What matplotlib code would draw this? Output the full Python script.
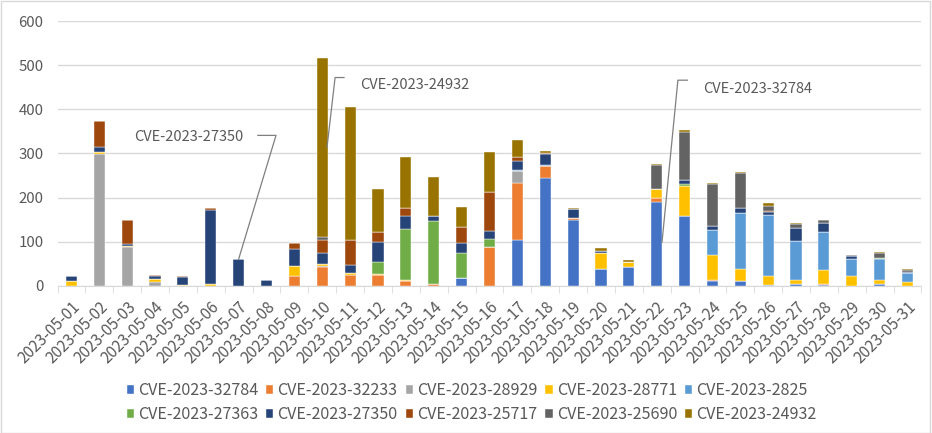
import matplotlib
matplotlib.use('Agg')
import matplotlib.pyplot as plt
import numpy as np
from matplotlib.patches import Rectangle

plt.rcParams['font.family'] = ['Noto Sans CJK KR', 'DejaVu Sans']

dates = [f'2023-05-{d:02d}' for d in range(1, 32)]

series_names = ['CVE-2023-32784', 'CVE-2023-32233', 'CVE-2023-28929', 'CVE-2023-28771',
                'CVE-2023-2825', 'CVE-2023-27363', 'CVE-2023-27350', 'CVE-2023-25717',
                'CVE-2023-25690', 'CVE-2023-24932']
colors = ['#4472C4', '#ED7D31', '#A5A5A5', '#FFC000', '#5B9BD5',
          '#70AD47', '#264478', '#9E480E', '#636363', '#997300']

cve_32784 = [0, 0, 0, 0, 0, 0, 0, 0, 0, 0, 0, 0, 0, 0, 17, 0, 104, 244, 149, 38, 42, 191, 159, 12, 11, 2, 4, 3, 0, 4, 0]
cve_32233 = [0, 0, 0, 0, 0, 1, 0, 0, 23, 44, 26, 24, 12, 5, 0, 88, 130, 27, 6, 0, 0, 8, 0, 1, 1, 0, 0, 2, 0, 0, 0]
cve_28929 = [0, 298, 88, 10, 0, 0, 0, 0, 0, 2, 0, 0, 0, 0, 0, 0, 27, 0, 0, 0, 0, 0, 0, 0, 0, 0, 0, 0, 0, 0, 0]
cve_28771 = [11, 6, 3, 5, 2, 3, 0, 0, 22, 3, 3, 3, 2, 0, 0, 0, 0, 0, 0, 37, 12, 20, 67, 57, 26, 21, 9, 32, 23, 10, 8]
cve_2825 = [0, 0, 0, 0, 0, 0, 0, 0, 0, 0, 0, 0, 0, 0, 0, 0, 2, 3, 0, 0, 0, 0, 0, 57, 128, 137, 88, 86, 37, 47, 21]
cve_27363 = [0, 0, 0, 0, 0, 0, 0, 0, 0, 0, 0, 27, 114, 143, 57, 19, 0, 0, 0, 0, 0, 0, 6, 0, 0, 0, 0, 0, 0, 2, 0]
cve_27350 = [12, 10, 5, 8, 18, 168, 61, 14, 38, 25, 18, 46, 31, 10, 24, 17, 20, 25, 20, 4, 0, 0, 8, 9, 10, 7, 30, 20, 7, 0, 3]
cve_25717 = [0, 60, 54, 1, 2, 4, 0, 0, 15, 30, 57, 22, 17, 1, 36, 89, 8, 2, 0, 1, 0, 0, 0, 0, 0, 2, 0, 0, 0, 0, 0]
cve_25690 = [0, 0, 0, 0, 0, 0, 0, 0, 0, 6, 0, 0, 0, 0, 0, 0, 0, 0, 0, 0, 0, 54, 109, 94, 80, 13, 9, 6, 3, 11, 4]
cve_24932 = [0, 0, 0, 0, 0, 0, 0, 0, 0, 406, 301, 98, 116, 88, 44, 91, 39, 5, 2, 5, 4, 4, 5, 3, 2, 5, 2, 0, 0, 2, 2]

series = [cve_32784, cve_32233, cve_28929, cve_28771, cve_2825,
          cve_27363, cve_27350, cve_25717, cve_25690, cve_24932]

TEXT = '#595959'
GRID = '#D9D9D9'

fig = plt.figure(figsize=(9.32, 4.33), dpi=100)
ax = fig.add_axes([0.0617, 0.3395, 0.927, 0.612])

x = np.arange(len(dates))
bottom = np.zeros(len(dates))
for name, vals, c in zip(series_names, series, colors):
    v = np.array(vals, dtype=float)
    ax.bar(x, v, width=0.4, bottom=bottom, color=c, label=name,
           edgecolor='white', linewidth=0.3, zorder=3)
    bottom += v

ax.set_xlim(-0.5, len(dates) - 0.5)
ax.set_ylim(0, 600)
ax.set_yticks(range(0, 601, 100))
ax.yaxis.grid(True, color=GRID, linewidth=1, zorder=0)
ax.set_xticks(x)
ax.set_xticklabels(dates, rotation=45, ha='right', rotation_mode='anchor')
ax.set_xticks(np.arange(-0.5, len(dates), 1), minor=True)
ax.tick_params(axis='x', which='major', length=0, pad=9, labelsize=11.2, colors=TEXT)
ax.tick_params(axis='x', which='minor', length=5, color=GRID)
ax.tick_params(axis='y', length=0, pad=10, labelsize=10.8, colors=TEXT)
for s in ['top', 'right', 'left']:
    ax.spines[s].set_visible(False)
ax.spines['bottom'].set_color(GRID)

# data-label style callouts with leader lines
LEAD = '#7F7F7F'
callouts = [
    ('CVE-2023-27350', (6, 61), [(7.34, 341), (6.69, 341)], (6.16, 337), 'right'),
    ('CVE-2023-24932', (9.17, 314), [(9.46, 472), (9.78, 472)], (10.35, 454), 'left'),
    ('CVE-2023-32784', (21.19, 99), [(21.76, 466), (22.1, 466)], (22.66, 447), 'left'),
]
for label, pt, path, txt, ha in callouts:
    xs = [pt[0]] + [p[0] for p in path]
    ys = [pt[1]] + [p[1] for p in path]
    ax.plot(xs, ys, color=LEAD, linewidth=0.9, zorder=4, clip_on=False)
    ax.text(txt[0], txt[1], label, ha=ha, va='center', fontsize=10.5, color=TEXT, zorder=5)

# legend fills row by row like the original: reorder for column-major layout
handles, labels = ax.get_legend_handles_labels()
order = [0, 5, 1, 6, 2, 7, 3, 8, 4, 9]
fig.legend([handles[i] for i in order], [labels[i] for i in order],
           ncol=5, loc='center', bbox_to_anchor=(0.506, 0.07),
           frameon=False, fontsize=11.6, handlelength=0.45, handleheight=0.45,
           handletextpad=0.25, columnspacing=0.5, labelspacing=0.45,
           labelcolor=TEXT)

fig.patches.append(Rectangle((0.001, 0.001), 0.997, 0.997, transform=fig.transFigure,
                             fill=False, edgecolor=GRID, linewidth=1))

fig.savefig('out.png', dpi=100)
